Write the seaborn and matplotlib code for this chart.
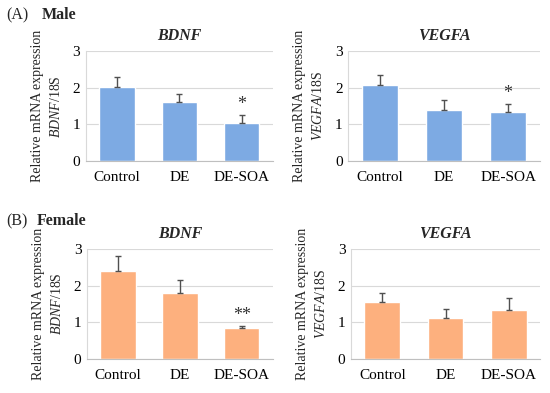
import matplotlib
matplotlib.use("Agg")
import matplotlib.pyplot as plt
import seaborn as sns
import pandas as pd

groups = ["Control", "DE", "DE-SOA"]

male_bdnf = [2.01, 1.60, 1.05]
male_bdnf_err = [0.27, 0.23, 0.22]
male_vegfa = [2.07, 1.39, 1.35]
male_vegfa_err = [0.29, 0.29, 0.22]

female_bdnf = [2.41, 1.79, 0.84]
female_bdnf_err = [0.40, 0.36, 0.06]
female_vegfa = [1.56, 1.13, 1.34]
female_vegfa_err = [0.25, 0.24, 0.32]

male_marks = {"BDNF": ["", "", "*"], "VEGFA": ["", "", "*"]}
female_marks = {"BDNF": ["", "", "**"], "VEGFA": ["", "", ""]}

blue = "#7DAAE3"
orange = "#FDB07E"

sns.set_style("white")
plt.rcParams["font.family"] = ["Liberation Serif", "DejaVu Serif"]
plt.rcParams["mathtext.fontset"] = "custom"
plt.rcParams["mathtext.rm"] = "Liberation Serif"
plt.rcParams["mathtext.it"] = "Liberation Serif:italic"
plt.rcParams["mathtext.bf"] = "Liberation Serif:bold"

fig = plt.figure(figsize=(5.5, 3.93), dpi=100)

panels = [
    ([0.156, 0.590, 0.340, 0.280], "BDNF", male_bdnf, male_bdnf_err, male_marks["BDNF"], blue),
    ([0.633, 0.590, 0.349, 0.280], "VEGFA", male_vegfa, male_vegfa_err, male_marks["VEGFA"], blue),
    ([0.158, 0.087, 0.338, 0.279], "BDNF", female_bdnf, female_bdnf_err, female_marks["BDNF"], orange),
    ([0.638, 0.087, 0.344, 0.279], "VEGFA", female_vegfa, female_vegfa_err, female_marks["VEGFA"], orange),
]

for rect, gene, vals, errs, marks, col in panels:
    ax = fig.add_axes(rect)
    df = pd.DataFrame({"group": groups, "value": vals})
    sns.barplot(data=df, x="group", y="value", color=col, saturation=1,
                width=0.57, errorbar=None, ax=ax, zorder=2)
    ax.errorbar(range(3), vals, yerr=[[0, 0, 0], errs], fmt="none",
                ecolor="#505050", elinewidth=1.0, capsize=2.5, capthick=1.0, zorder=3)
    for i, m in enumerate(marks):
        if m:
            ax.text(i, vals[i] + errs[i] + 0.04, m, ha="center", va="bottom",
                    fontsize=13, color="#333333")
    ax.set_xlim(-0.5, 2.5)
    ax.set_ylim(0, 3)
    ax.set_yticks([0, 1, 2, 3])
    ax.yaxis.grid(True, color="#d9d9d9", linewidth=0.8, zorder=0)
    ax.set_axisbelow(True)
    for s in ["top", "right"]:
        ax.spines[s].set_visible(False)
    ax.spines["left"].set_color("#d9d9d9")
    ax.spines["bottom"].set_color("#bfbfbf")
    ax.tick_params(axis="both", labelsize=11, length=0, pad=4, colors="black")
    ax.tick_params(axis="x", pad=7)
    ax.set_xticks([-0.5, 0.5, 1.5, 2.5], minor=True)
    ax.tick_params(axis="x", which="minor", length=4, color="#bfbfbf", direction="out")
    ax.set_xlabel("")
    ax.set_ylabel("Relative mRNA expression\n$\\mathit{" + gene + "}$/18S",
                  fontsize=10, labelpad=7, linespacing=1.45)
    ax.set_title(gene, fontsize=11.5, fontweight="bold", fontstyle="italic", pad=8)

fig.text(0.012, 0.962, "(A)", fontsize=11.5, va="center")
fig.text(0.075, 0.962, "Male", fontsize=11.5, fontweight="bold", va="center")
fig.text(0.012, 0.437, "(B)", fontsize=11.5, va="center")
fig.text(0.066, 0.437, "Female", fontsize=11.5, fontweight="bold", va="center")

fig.savefig("out.png", dpi=100)
